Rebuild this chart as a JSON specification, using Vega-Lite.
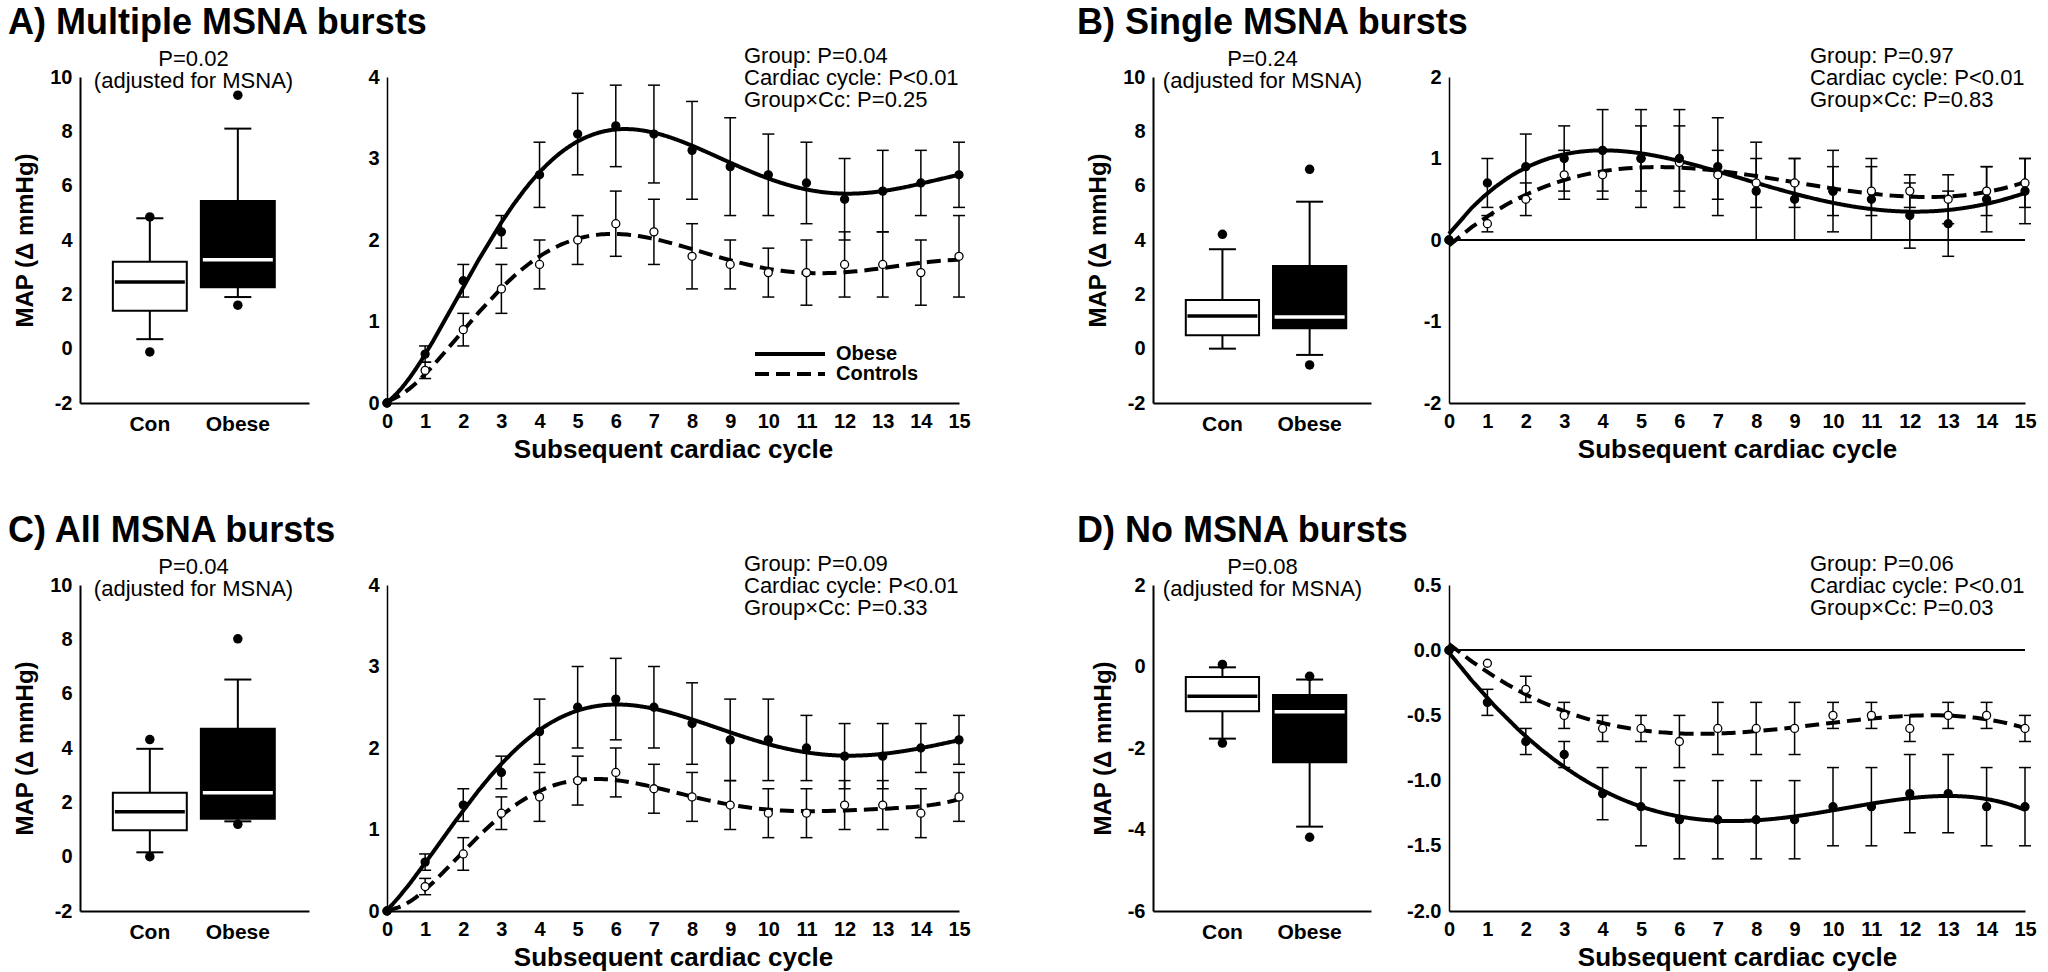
{
"$schema": "https://vega.github.io/schema/vega-lite/v6.json",
"padding": {"left": 8, "top": 5, "right": 4, "bottom": 5},
"background": "white",
"config": {
  "view": {"stroke": null},
  "font": "Liberation Sans",
  "axis": {"domainColor": "black", "domainWidth": 2, "ticks": false, "tickSize": 0, "grid": false, "labelFontWeight": "bold", "labelFontSize": 20, "labelColor": "black", "titleFontWeight": "bold", "titleColor": "black", "labelPadding": 8},
  "title": {"color": "black"},
  "legend": {"labelColor": "black"}
},
"bounds": "flush",
"align": "each",
"columns": 5,
"spacing": {"row": 182, "column": 78},
"resolve": {"scale": {"fill": "independent", "color": "independent", "strokeDash": "independent"}, "legend": {"fill": "independent", "color": "independent", "strokeDash": "independent"}},
"datasets": {
  "boxA": [
    {"group": "Con", "lower": 0.35, "q1": 1.4, "median": 2.45, "q3": 3.2, "upper": 4.8},
    {"group": "Obese", "lower": 1.9, "q1": 2.26, "median": 3.27, "q3": 5.44, "upper": 8.1}],
  "outA": [
    {"group": "Con", "value": 4.85}, {"group": "Con", "value": -0.12},
    {"group": "Obese", "value": 9.33}, {"group": "Obese", "value": 1.6}],
  "boxB": [
    {"group": "Con", "lower": 0.0, "q1": 0.49, "median": 1.2, "q3": 1.79, "upper": 3.66},
    {"group": "Obese", "lower": -0.23, "q1": 0.75, "median": 1.17, "q3": 3.04, "upper": 5.41}],
  "outB": [
    {"group": "Con", "value": 4.21},
    {"group": "Obese", "value": 6.6}, {"group": "Obese", "value": -0.6}],
  "boxC": [
    {"group": "Con", "lower": 0.16, "q1": 0.97, "median": 1.65, "q3": 2.35, "upper": 3.97},
    {"group": "Obese", "lower": 1.3, "q1": 1.4, "median": 2.35, "q3": 4.71, "upper": 6.52}],
  "outC": [
    {"group": "Con", "value": 4.31}, {"group": "Con", "value": 0.0},
    {"group": "Obese", "value": 8.02}, {"group": "Obese", "value": 1.19}],
  "boxD": [
    {"group": "Con", "lower": -1.77, "q1": -1.1, "median": -0.73, "q3": -0.26, "upper": -0.02},
    {"group": "Obese", "lower": -3.93, "q1": -2.35, "median": -1.11, "q3": -0.7, "upper": -0.32}],
  "outD": [
    {"group": "Con", "value": 0.05}, {"group": "Con", "value": -1.88},
    {"group": "Obese", "value": -0.24}, {"group": "Obese", "value": -4.19}],
  "lineA": [
    {"cycle": 0, "group": "Controls", "mean": 0},
    {"cycle": 1, "group": "Controls", "mean": 0.4, "lo": 0.3, "hi": 0.5},
    {"cycle": 2, "group": "Controls", "mean": 0.9, "lo": 0.7, "hi": 1.1},
    {"cycle": 3, "group": "Controls", "mean": 1.4, "lo": 1.1, "hi": 1.7},
    {"cycle": 4, "group": "Controls", "mean": 1.7, "lo": 1.4, "hi": 2.0},
    {"cycle": 5, "group": "Controls", "mean": 2.0, "lo": 1.7, "hi": 2.3},
    {"cycle": 6, "group": "Controls", "mean": 2.2, "lo": 1.8, "hi": 2.6},
    {"cycle": 7, "group": "Controls", "mean": 2.1, "lo": 1.7, "hi": 2.5},
    {"cycle": 8, "group": "Controls", "mean": 1.8, "lo": 1.4, "hi": 2.2},
    {"cycle": 9, "group": "Controls", "mean": 1.7, "lo": 1.4, "hi": 2.0},
    {"cycle": 10, "group": "Controls", "mean": 1.6, "lo": 1.3, "hi": 1.9},
    {"cycle": 11, "group": "Controls", "mean": 1.6, "lo": 1.2, "hi": 2.0},
    {"cycle": 12, "group": "Controls", "mean": 1.7, "lo": 1.3, "hi": 2.1},
    {"cycle": 13, "group": "Controls", "mean": 1.7, "lo": 1.3, "hi": 2.1},
    {"cycle": 14, "group": "Controls", "mean": 1.6, "lo": 1.2, "hi": 2.0},
    {"cycle": 15, "group": "Controls", "mean": 1.8, "lo": 1.3, "hi": 2.3},
    {"cycle": 0, "group": "Obese", "mean": 0},
    {"cycle": 1, "group": "Obese", "mean": 0.6, "lo": 0.5, "hi": 0.7},
    {"cycle": 2, "group": "Obese", "mean": 1.5, "lo": 1.3, "hi": 1.7},
    {"cycle": 3, "group": "Obese", "mean": 2.1, "lo": 1.9, "hi": 2.3},
    {"cycle": 4, "group": "Obese", "mean": 2.8, "lo": 2.4, "hi": 3.2},
    {"cycle": 5, "group": "Obese", "mean": 3.3, "lo": 2.8, "hi": 3.8},
    {"cycle": 6, "group": "Obese", "mean": 3.4, "lo": 2.9, "hi": 3.9},
    {"cycle": 7, "group": "Obese", "mean": 3.3, "lo": 2.7, "hi": 3.9},
    {"cycle": 8, "group": "Obese", "mean": 3.1, "lo": 2.5, "hi": 3.7},
    {"cycle": 9, "group": "Obese", "mean": 2.9, "lo": 2.3, "hi": 3.5},
    {"cycle": 10, "group": "Obese", "mean": 2.8, "lo": 2.3, "hi": 3.3},
    {"cycle": 11, "group": "Obese", "mean": 2.7, "lo": 2.2, "hi": 3.2},
    {"cycle": 12, "group": "Obese", "mean": 2.5, "lo": 2.0, "hi": 3.0},
    {"cycle": 13, "group": "Obese", "mean": 2.6, "lo": 2.1, "hi": 3.1},
    {"cycle": 14, "group": "Obese", "mean": 2.7, "lo": 2.3, "hi": 3.1},
    {"cycle": 15, "group": "Obese", "mean": 2.8, "lo": 2.4, "hi": 3.2}],
  "lineB": [
    {"cycle": 0, "group": "Controls", "mean": 0},
    {"cycle": 1, "group": "Controls", "mean": 0.2, "lo": 0.1, "hi": 0.3},
    {"cycle": 2, "group": "Controls", "mean": 0.5, "lo": 0.3, "hi": 0.7},
    {"cycle": 3, "group": "Controls", "mean": 0.8, "lo": 0.5, "hi": 1.1},
    {"cycle": 4, "group": "Controls", "mean": 0.8, "lo": 0.5, "hi": 1.1},
    {"cycle": 5, "group": "Controls", "mean": 1.0, "lo": 0.6, "hi": 1.4},
    {"cycle": 6, "group": "Controls", "mean": 0.95, "lo": 0.6, "hi": 1.4},
    {"cycle": 7, "group": "Controls", "mean": 0.8, "lo": 0.5, "hi": 1.1},
    {"cycle": 8, "group": "Controls", "mean": 0.7, "lo": 0.4, "hi": 1.0},
    {"cycle": 9, "group": "Controls", "mean": 0.7, "lo": 0.4, "hi": 1.0},
    {"cycle": 10, "group": "Controls", "mean": 0.6, "lo": 0.3, "hi": 0.9},
    {"cycle": 11, "group": "Controls", "mean": 0.6, "lo": 0.3, "hi": 0.9},
    {"cycle": 12, "group": "Controls", "mean": 0.6, "lo": 0.4, "hi": 0.8},
    {"cycle": 13, "group": "Controls", "mean": 0.5, "lo": 0.2, "hi": 0.8},
    {"cycle": 14, "group": "Controls", "mean": 0.6, "lo": 0.3, "hi": 0.9},
    {"cycle": 15, "group": "Controls", "mean": 0.7, "lo": 0.4, "hi": 1.0},
    {"cycle": 0, "group": "Obese", "mean": 0},
    {"cycle": 1, "group": "Obese", "mean": 0.7, "lo": 0.4, "hi": 1.0},
    {"cycle": 2, "group": "Obese", "mean": 0.9, "lo": 0.5, "hi": 1.3},
    {"cycle": 3, "group": "Obese", "mean": 1.0, "lo": 0.6, "hi": 1.4},
    {"cycle": 4, "group": "Obese", "mean": 1.1, "lo": 0.6, "hi": 1.6},
    {"cycle": 5, "group": "Obese", "mean": 1.0, "lo": 0.4, "hi": 1.6},
    {"cycle": 6, "group": "Obese", "mean": 1.0, "lo": 0.4, "hi": 1.6},
    {"cycle": 7, "group": "Obese", "mean": 0.9, "lo": 0.3, "hi": 1.5},
    {"cycle": 8, "group": "Obese", "mean": 0.6, "lo": 0.0, "hi": 1.2},
    {"cycle": 9, "group": "Obese", "mean": 0.5, "lo": 0.0, "hi": 1.0},
    {"cycle": 10, "group": "Obese", "mean": 0.6, "lo": 0.1, "hi": 1.1},
    {"cycle": 11, "group": "Obese", "mean": 0.5, "lo": 0.0, "hi": 1.0},
    {"cycle": 12, "group": "Obese", "mean": 0.3, "lo": -0.1, "hi": 0.7},
    {"cycle": 13, "group": "Obese", "mean": 0.2, "lo": -0.2, "hi": 0.6},
    {"cycle": 14, "group": "Obese", "mean": 0.5, "lo": 0.1, "hi": 0.9},
    {"cycle": 15, "group": "Obese", "mean": 0.6, "lo": 0.2, "hi": 1.0}],
  "lineC": [
    {"cycle": 0, "group": "Controls", "mean": 0},
    {"cycle": 1, "group": "Controls", "mean": 0.3, "lo": 0.2, "hi": 0.4},
    {"cycle": 2, "group": "Controls", "mean": 0.7, "lo": 0.5, "hi": 0.9},
    {"cycle": 3, "group": "Controls", "mean": 1.2, "lo": 1.0, "hi": 1.4},
    {"cycle": 4, "group": "Controls", "mean": 1.4, "lo": 1.1, "hi": 1.7},
    {"cycle": 5, "group": "Controls", "mean": 1.6, "lo": 1.3, "hi": 1.9},
    {"cycle": 6, "group": "Controls", "mean": 1.7, "lo": 1.4, "hi": 2.0},
    {"cycle": 7, "group": "Controls", "mean": 1.5, "lo": 1.2, "hi": 1.8},
    {"cycle": 8, "group": "Controls", "mean": 1.4, "lo": 1.1, "hi": 1.7},
    {"cycle": 9, "group": "Controls", "mean": 1.3, "lo": 1.0, "hi": 1.6},
    {"cycle": 10, "group": "Controls", "mean": 1.2, "lo": 0.9, "hi": 1.5},
    {"cycle": 11, "group": "Controls", "mean": 1.2, "lo": 0.9, "hi": 1.5},
    {"cycle": 12, "group": "Controls", "mean": 1.3, "lo": 1.0, "hi": 1.6},
    {"cycle": 13, "group": "Controls", "mean": 1.3, "lo": 1.0, "hi": 1.6},
    {"cycle": 14, "group": "Controls", "mean": 1.2, "lo": 0.9, "hi": 1.5},
    {"cycle": 15, "group": "Controls", "mean": 1.4, "lo": 1.1, "hi": 1.7},
    {"cycle": 0, "group": "Obese", "mean": 0},
    {"cycle": 1, "group": "Obese", "mean": 0.6, "lo": 0.5, "hi": 0.7},
    {"cycle": 2, "group": "Obese", "mean": 1.3, "lo": 1.1, "hi": 1.5},
    {"cycle": 3, "group": "Obese", "mean": 1.7, "lo": 1.5, "hi": 1.9},
    {"cycle": 4, "group": "Obese", "mean": 2.2, "lo": 1.8, "hi": 2.6},
    {"cycle": 5, "group": "Obese", "mean": 2.5, "lo": 2.0, "hi": 3.0},
    {"cycle": 6, "group": "Obese", "mean": 2.6, "lo": 2.1, "hi": 3.1},
    {"cycle": 7, "group": "Obese", "mean": 2.5, "lo": 2.0, "hi": 3.0},
    {"cycle": 8, "group": "Obese", "mean": 2.3, "lo": 1.8, "hi": 2.8},
    {"cycle": 9, "group": "Obese", "mean": 2.1, "lo": 1.6, "hi": 2.6},
    {"cycle": 10, "group": "Obese", "mean": 2.1, "lo": 1.6, "hi": 2.6},
    {"cycle": 11, "group": "Obese", "mean": 2.0, "lo": 1.6, "hi": 2.4},
    {"cycle": 12, "group": "Obese", "mean": 1.9, "lo": 1.5, "hi": 2.3},
    {"cycle": 13, "group": "Obese", "mean": 1.9, "lo": 1.5, "hi": 2.3},
    {"cycle": 14, "group": "Obese", "mean": 2.0, "lo": 1.7, "hi": 2.3},
    {"cycle": 15, "group": "Obese", "mean": 2.1, "lo": 1.8, "hi": 2.4}],
  "lineD": [
    {"cycle": 0, "group": "Controls", "mean": 0},
    {"cycle": 1, "group": "Controls", "mean": -0.1},
    {"cycle": 2, "group": "Controls", "mean": -0.3, "lo": -0.4, "hi": -0.2},
    {"cycle": 3, "group": "Controls", "mean": -0.5, "lo": -0.6, "hi": -0.4},
    {"cycle": 4, "group": "Controls", "mean": -0.6, "lo": -0.7, "hi": -0.5},
    {"cycle": 5, "group": "Controls", "mean": -0.6, "lo": -0.7, "hi": -0.5},
    {"cycle": 6, "group": "Controls", "mean": -0.7, "lo": -0.9, "hi": -0.5},
    {"cycle": 7, "group": "Controls", "mean": -0.6, "lo": -0.8, "hi": -0.4},
    {"cycle": 8, "group": "Controls", "mean": -0.6, "lo": -0.8, "hi": -0.4},
    {"cycle": 9, "group": "Controls", "mean": -0.6, "lo": -0.8, "hi": -0.4},
    {"cycle": 10, "group": "Controls", "mean": -0.5, "lo": -0.6, "hi": -0.4},
    {"cycle": 11, "group": "Controls", "mean": -0.5, "lo": -0.6, "hi": -0.4},
    {"cycle": 12, "group": "Controls", "mean": -0.6, "lo": -0.7, "hi": -0.5},
    {"cycle": 13, "group": "Controls", "mean": -0.5, "lo": -0.6, "hi": -0.4},
    {"cycle": 14, "group": "Controls", "mean": -0.5, "lo": -0.6, "hi": -0.4},
    {"cycle": 15, "group": "Controls", "mean": -0.6, "lo": -0.7, "hi": -0.5},
    {"cycle": 0, "group": "Obese", "mean": 0},
    {"cycle": 1, "group": "Obese", "mean": -0.4, "lo": -0.5, "hi": -0.3},
    {"cycle": 2, "group": "Obese", "mean": -0.7, "lo": -0.8, "hi": -0.6},
    {"cycle": 3, "group": "Obese", "mean": -0.8, "lo": -0.9, "hi": -0.7},
    {"cycle": 4, "group": "Obese", "mean": -1.1, "lo": -1.3, "hi": -0.9},
    {"cycle": 5, "group": "Obese", "mean": -1.2, "lo": -1.5, "hi": -0.9},
    {"cycle": 6, "group": "Obese", "mean": -1.3, "lo": -1.6, "hi": -1.0},
    {"cycle": 7, "group": "Obese", "mean": -1.3, "lo": -1.6, "hi": -1.0},
    {"cycle": 8, "group": "Obese", "mean": -1.3, "lo": -1.6, "hi": -1.0},
    {"cycle": 9, "group": "Obese", "mean": -1.3, "lo": -1.6, "hi": -1.0},
    {"cycle": 10, "group": "Obese", "mean": -1.2, "lo": -1.5, "hi": -0.9},
    {"cycle": 11, "group": "Obese", "mean": -1.2, "lo": -1.5, "hi": -0.9},
    {"cycle": 12, "group": "Obese", "mean": -1.1, "lo": -1.4, "hi": -0.8},
    {"cycle": 13, "group": "Obese", "mean": -1.1, "lo": -1.4, "hi": -0.8},
    {"cycle": 14, "group": "Obese", "mean": -1.2, "lo": -1.5, "hi": -0.9},
    {"cycle": 15, "group": "Obese", "mean": -1.2, "lo": -1.5, "hi": -0.9}]
},
"concat": [
  {
    "width": 229, "height": 326,
    "title": {"text": "A) Multiple MSNA bursts", "anchor": "start", "frame": "group", "dx": -72, "fontSize": 36, "fontWeight": "bold", "offset": 5},
    "resolve": {"axis": {"x": "independent", "y": "independent"}},
    "layer": [
      {"data": {"name": "boxA"}, "mark": {"type": "rule", "color": "black", "strokeWidth": 2},
       "encoding": {
         "x": {"field": "group", "type": "nominal", "scale": {"type": "band", "domain": ["Con", "Obese"], "paddingInner": 0.16, "paddingOuter": 0.381, "align": 0.49}, "axis": {"orient": "bottom", "title": null, "labelAngle": 0, "labelFontSize": 21, "labelPadding": 10}},
         "y": {"field": "lower", "type": "quantitative", "scale": {"domain": [-2, 10], "nice": false, "zero": false}, "axis": {"values": [-2, 0, 2, 4, 6, 8, 10], "title": "MAP (Δ mmHg)", "titleFontSize": 24, "titlePadding": 12, "labelExpr": "replace(datum.label, '\u2212', '-')"}},
         "y2": {"field": "upper"}}},
      {"data": {"name": "boxA"}, "mark": {"type": "bar", "stroke": "black", "strokeWidth": 2},
       "encoding": {"x": {"field": "group", "type": "nominal", "axis": null}, "y": {"field": "q1", "type": "quantitative", "axis": null}, "y2": {"field": "q3"},
         "fill": {"field": "group", "type": "nominal", "scale": {"domain": ["Con", "Obese"], "range": ["white", "black"]}, "legend": null}}},
      {"data": {"name": "boxA"}, "mark": {"type": "tick", "orient": "horizontal", "size": 70, "thickness": 3.5, "opacity": 1},
       "encoding": {"x": {"field": "group", "type": "nominal", "axis": null}, "y": {"field": "median", "type": "quantitative", "axis": null},
         "color": {"field": "group", "type": "nominal", "scale": {"domain": ["Con", "Obese"], "range": ["black", "white"]}, "legend": null}}},
      {"data": {"name": "boxA"}, "mark": {"type": "tick", "orient": "horizontal", "size": 27, "thickness": 2, "color": "black", "opacity": 1},
       "encoding": {"x": {"field": "group", "type": "nominal", "axis": null}, "y": {"field": "lower", "type": "quantitative", "axis": null}}},
      {"data": {"name": "boxA"}, "mark": {"type": "tick", "orient": "horizontal", "size": 27, "thickness": 2, "color": "black", "opacity": 1},
       "encoding": {"x": {"field": "group", "type": "nominal", "axis": null}, "y": {"field": "upper", "type": "quantitative", "axis": null}}},
      {"data": {"name": "outA"}, "mark": {"type": "point", "shape": "circle", "filled": true, "color": "black", "size": 90, "opacity": 1},
       "encoding": {"x": {"field": "group", "type": "nominal", "axis": {"orient": "top", "domain": false, "labels": false, "ticks": false, "title": ["P=0.02", "(adjusted for MSNA)"], "titleFontSize": 22, "titleFontWeight": "normal", "titleBaseline": "alphabetic", "titleX": 113, "titleY": -12, "titleLineHeight": 22}},
         "y": {"field": "value", "type": "quantitative", "axis": null}}}
    ]
  },
  {
    "width": 572, "height": 326,
    "data": {"name": "lineA"},
    "title": {"text": ["Group: P=0.04", "Cardiac cycle: P<0.01", "Group×Cc: P=0.25"], "anchor": "start", "frame": "group", "dx": 357, "offset": -45, "fontSize": 22, "fontWeight": "normal", "lineHeight": 22, "align": "left"},
    "resolve": {"axis": {"x": "independent", "y": "independent"}},
    "layer": [
      {"transform": [{"regression": "mean", "on": "cycle", "groupby": ["group"], "method": "poly", "order": 6, "extent": [0, 15]}],
       "mark": {"type": "line", "color": "black", "strokeWidth": 4},
       "encoding": {
         "x": {"field": "cycle", "type": "quantitative", "scale": {"domain": [0, 15], "nice": false, "zero": false}, "axis": {"values": [0,1,2,3,4,5,6,7,8,9,10,11,12,13,14,15], "title": "Subsequent cardiac cycle", "titleFontSize": 26, "titlePadding": 5, "labelFlush": false, "labelOverlap": false}},
         "y": {"field": "mean", "type": "quantitative", "scale": {"domain": [0, 4], "nice": false, "zero": false}, "axis": {"values": [0, 1, 2, 3, 4], "title": null, "domainWidth": 1.5}},
         "strokeDash": {"field": "group", "type": "nominal", "scale": {"domain": ["Obese", "Controls"], "range": [[1, 0], [14, 7]]},
           "legend": {"orient": "none", "legendX": 366, "legendY": 267, "title": null, "symbolType": "stroke", "symbolSize": 4900, "symbolStrokeWidth": 4, "symbolStrokeColor": "black", "labelFontSize": 20, "labelFontWeight": "bold", "labelColor": "black", "clipHeight": 20, "rowPadding": 0, "padding": 0, "labelOffset": 9}}}},
      {"transform": [{"filter": "isValid(datum.lo)"}], "mark": {"type": "rule", "color": "black", "strokeWidth": 1.5},
       "encoding": {"x": {"field": "cycle", "type": "quantitative", "axis": null}, "y": {"field": "lo", "type": "quantitative", "axis": null}, "y2": {"field": "hi"}}},
      {"transform": [{"filter": "isValid(datum.lo)"}], "mark": {"type": "tick", "orient": "horizontal", "size": 12, "thickness": 1.5, "color": "black", "opacity": 1},
       "encoding": {"x": {"field": "cycle", "type": "quantitative", "axis": null}, "y": {"field": "lo", "type": "quantitative", "axis": null}}},
      {"transform": [{"filter": "isValid(datum.hi)"}], "mark": {"type": "tick", "orient": "horizontal", "size": 12, "thickness": 1.5, "color": "black", "opacity": 1},
       "encoding": {"x": {"field": "cycle", "type": "quantitative", "axis": null}, "y": {"field": "hi", "type": "quantitative", "axis": null}}},
      {"mark": {"type": "point", "shape": "circle", "filled": true, "size": 64, "stroke": "black", "strokeWidth": 1.3, "opacity": 1},
       "encoding": {"x": {"field": "cycle", "type": "quantitative", "axis": null}, "y": {"field": "mean", "type": "quantitative", "axis": null},
         "fill": {"field": "group", "type": "nominal", "scale": {"domain": ["Obese", "Controls"], "range": ["black", "white"]}, "legend": null}}}
    ]
  },
  {"width": 38, "height": 326, "data": {"values": [{"a": 1}]}, "mark": {"type": "point", "opacity": 0}, "encoding": {}},
  {
    "width": 218, "height": 326,
    "title": {"text": "B) Single MSNA bursts", "anchor": "start", "frame": "group", "dx": -76, "fontSize": 36, "fontWeight": "bold", "offset": 5},
    "resolve": {"axis": {"x": "independent", "y": "independent"}},
    "layer": [
      {"data": {"name": "boxB"}, "mark": {"type": "rule", "color": "black", "strokeWidth": 2},
       "encoding": {
         "x": {"field": "group", "type": "nominal", "scale": {"type": "band", "domain": ["Con", "Obese"], "paddingInner": 0.16, "paddingOuter": 0.33, "align": 0.57}, "axis": {"orient": "bottom", "title": null, "labelAngle": 0, "labelFontSize": 21, "labelPadding": 10}},
         "y": {"field": "lower", "type": "quantitative", "scale": {"domain": [-2, 10], "nice": false, "zero": false}, "axis": {"values": [-2, 0, 2, 4, 6, 8, 10], "title": "MAP (Δ mmHg)", "titleFontSize": 24, "titlePadding": 12, "labelExpr": "replace(datum.label, '\u2212', '-')"}},
         "y2": {"field": "upper"}}},
      {"data": {"name": "boxB"}, "mark": {"type": "bar", "stroke": "black", "strokeWidth": 2},
       "encoding": {"x": {"field": "group", "type": "nominal", "axis": null}, "y": {"field": "q1", "type": "quantitative", "axis": null}, "y2": {"field": "q3"},
         "fill": {"field": "group", "type": "nominal", "scale": {"domain": ["Con", "Obese"], "range": ["white", "black"]}, "legend": null}}},
      {"data": {"name": "boxB"}, "mark": {"type": "tick", "orient": "horizontal", "size": 70, "thickness": 3.5, "opacity": 1},
       "encoding": {"x": {"field": "group", "type": "nominal", "axis": null}, "y": {"field": "median", "type": "quantitative", "axis": null},
         "color": {"field": "group", "type": "nominal", "scale": {"domain": ["Con", "Obese"], "range": ["black", "white"]}, "legend": null}}},
      {"data": {"name": "boxB"}, "mark": {"type": "tick", "orient": "horizontal", "size": 27, "thickness": 2, "color": "black", "opacity": 1},
       "encoding": {"x": {"field": "group", "type": "nominal", "axis": null}, "y": {"field": "lower", "type": "quantitative", "axis": null}}},
      {"data": {"name": "boxB"}, "mark": {"type": "tick", "orient": "horizontal", "size": 27, "thickness": 2, "color": "black", "opacity": 1},
       "encoding": {"x": {"field": "group", "type": "nominal", "axis": null}, "y": {"field": "upper", "type": "quantitative", "axis": null}}},
      {"data": {"name": "outB"}, "mark": {"type": "point", "shape": "circle", "filled": true, "color": "black", "size": 90, "opacity": 1},
       "encoding": {"x": {"field": "group", "type": "nominal", "axis": {"orient": "top", "domain": false, "labels": false, "ticks": false, "title": ["P=0.24", "(adjusted for MSNA)"], "titleFontSize": 22, "titleFontWeight": "normal", "titleBaseline": "alphabetic", "titleY": -12, "titleLineHeight": 22}},
         "y": {"field": "value", "type": "quantitative", "axis": null}}}
    ]
  },
  {
    "width": 576, "height": 326,
    "data": {"name": "lineB"},
    "title": {"text": ["Group: P=0.97", "Cardiac cycle: P<0.01", "Group×Cc: P=0.83"], "anchor": "start", "frame": "group", "dx": 361, "offset": -45, "fontSize": 22, "fontWeight": "normal", "lineHeight": 22, "align": "left"},
    "resolve": {"axis": {"x": "independent", "y": "independent"}},
    "layer": [
      {"mark": {"type": "rule", "color": "black", "strokeWidth": 1.5},
       "encoding": {"x": {"datum": 0, "type": "quantitative", "scale": {"domain": [0, 15], "nice": false, "zero": false}, "axis": {"values": [0,1,2,3,4,5,6,7,8,9,10,11,12,13,14,15], "title": "Subsequent cardiac cycle", "titleFontSize": 26, "titlePadding": 5, "labelFlush": false, "labelOverlap": false}}, "x2": {"datum": 15},
         "y": {"datum": 0, "type": "quantitative", "scale": {"domain": [-2, 2], "nice": false, "zero": false}, "axis": {"values": [-2, -1, 0, 1, 2], "title": null, "domainWidth": 1.5, "labelExpr": "replace(datum.label, '\u2212', '-')"}}}},
      {"transform": [{"regression": "mean", "on": "cycle", "groupby": ["group"], "method": "poly", "order": 4, "extent": [0, 15]}],
       "mark": {"type": "line", "color": "black", "strokeWidth": 4},
       "encoding": {
         "x": {"field": "cycle", "type": "quantitative", "axis": null},
         "y": {"field": "mean", "type": "quantitative", "axis": null},
         "strokeDash": {"field": "group", "type": "nominal", "scale": {"domain": ["Obese", "Controls"], "range": [[1, 0], [14, 7]]}, "legend": null}}},
      {"transform": [{"filter": "isValid(datum.lo)"}], "mark": {"type": "rule", "color": "black", "strokeWidth": 1.5},
       "encoding": {"x": {"field": "cycle", "type": "quantitative", "axis": null}, "y": {"field": "lo", "type": "quantitative", "axis": null}, "y2": {"field": "hi"}}},
      {"transform": [{"filter": "isValid(datum.lo)"}], "mark": {"type": "tick", "orient": "horizontal", "size": 12, "thickness": 1.5, "color": "black", "opacity": 1},
       "encoding": {"x": {"field": "cycle", "type": "quantitative", "axis": null}, "y": {"field": "lo", "type": "quantitative", "axis": null}}},
      {"transform": [{"filter": "isValid(datum.hi)"}], "mark": {"type": "tick", "orient": "horizontal", "size": 12, "thickness": 1.5, "color": "black", "opacity": 1},
       "encoding": {"x": {"field": "cycle", "type": "quantitative", "axis": null}, "y": {"field": "hi", "type": "quantitative", "axis": null}}},
      {"mark": {"type": "point", "shape": "circle", "filled": true, "size": 64, "stroke": "black", "strokeWidth": 1.3, "opacity": 1},
       "encoding": {"x": {"field": "cycle", "type": "quantitative", "axis": null}, "y": {"field": "mean", "type": "quantitative", "axis": null},
         "fill": {"field": "group", "type": "nominal", "scale": {"domain": ["Obese", "Controls"], "range": ["black", "white"]}, "legend": null}}}
    ]
  },
  {
    "width": 229, "height": 326,
    "title": {"text": "C) All MSNA bursts", "anchor": "start", "frame": "group", "dx": -72, "fontSize": 36, "fontWeight": "bold", "offset": 5},
    "resolve": {"axis": {"x": "independent", "y": "independent"}},
    "layer": [
      {"data": {"name": "boxC"}, "mark": {"type": "rule", "color": "black", "strokeWidth": 2},
       "encoding": {
         "x": {"field": "group", "type": "nominal", "scale": {"type": "band", "domain": ["Con", "Obese"], "paddingInner": 0.16, "paddingOuter": 0.381, "align": 0.49}, "axis": {"orient": "bottom", "title": null, "labelAngle": 0, "labelFontSize": 21, "labelPadding": 10}},
         "y": {"field": "lower", "type": "quantitative", "scale": {"domain": [-2, 10], "nice": false, "zero": false}, "axis": {"values": [-2, 0, 2, 4, 6, 8, 10], "title": "MAP (Δ mmHg)", "titleFontSize": 24, "titlePadding": 12, "labelExpr": "replace(datum.label, '\u2212', '-')"}},
         "y2": {"field": "upper"}}},
      {"data": {"name": "boxC"}, "mark": {"type": "bar", "stroke": "black", "strokeWidth": 2},
       "encoding": {"x": {"field": "group", "type": "nominal", "axis": null}, "y": {"field": "q1", "type": "quantitative", "axis": null}, "y2": {"field": "q3"},
         "fill": {"field": "group", "type": "nominal", "scale": {"domain": ["Con", "Obese"], "range": ["white", "black"]}, "legend": null}}},
      {"data": {"name": "boxC"}, "mark": {"type": "tick", "orient": "horizontal", "size": 70, "thickness": 3.5, "opacity": 1},
       "encoding": {"x": {"field": "group", "type": "nominal", "axis": null}, "y": {"field": "median", "type": "quantitative", "axis": null},
         "color": {"field": "group", "type": "nominal", "scale": {"domain": ["Con", "Obese"], "range": ["black", "white"]}, "legend": null}}},
      {"data": {"name": "boxC"}, "mark": {"type": "tick", "orient": "horizontal", "size": 27, "thickness": 2, "color": "black", "opacity": 1},
       "encoding": {"x": {"field": "group", "type": "nominal", "axis": null}, "y": {"field": "lower", "type": "quantitative", "axis": null}}},
      {"data": {"name": "boxC"}, "mark": {"type": "tick", "orient": "horizontal", "size": 27, "thickness": 2, "color": "black", "opacity": 1},
       "encoding": {"x": {"field": "group", "type": "nominal", "axis": null}, "y": {"field": "upper", "type": "quantitative", "axis": null}}},
      {"data": {"name": "outC"}, "mark": {"type": "point", "shape": "circle", "filled": true, "color": "black", "size": 90, "opacity": 1},
       "encoding": {"x": {"field": "group", "type": "nominal", "axis": {"orient": "top", "domain": false, "labels": false, "ticks": false, "title": ["P=0.04", "(adjusted for MSNA)"], "titleFontSize": 22, "titleFontWeight": "normal", "titleBaseline": "alphabetic", "titleX": 113, "titleY": -12, "titleLineHeight": 22}},
         "y": {"field": "value", "type": "quantitative", "axis": null}}}
    ]
  },
  {
    "width": 572, "height": 326,
    "data": {"name": "lineC"},
    "title": {"text": ["Group: P=0.09", "Cardiac cycle: P<0.01", "Group×Cc: P=0.33"], "anchor": "start", "frame": "group", "dx": 357, "offset": -45, "fontSize": 22, "fontWeight": "normal", "lineHeight": 22, "align": "left"},
    "resolve": {"axis": {"x": "independent", "y": "independent"}},
    "layer": [
      {"transform": [{"regression": "mean", "on": "cycle", "groupby": ["group"], "method": "poly", "order": 6, "extent": [0, 15]}],
       "mark": {"type": "line", "color": "black", "strokeWidth": 4},
       "encoding": {
         "x": {"field": "cycle", "type": "quantitative", "scale": {"domain": [0, 15], "nice": false, "zero": false}, "axis": {"values": [0,1,2,3,4,5,6,7,8,9,10,11,12,13,14,15], "title": "Subsequent cardiac cycle", "titleFontSize": 26, "titlePadding": 5, "labelFlush": false, "labelOverlap": false}},
         "y": {"field": "mean", "type": "quantitative", "scale": {"domain": [0, 4], "nice": false, "zero": false}, "axis": {"values": [0, 1, 2, 3, 4], "title": null, "domainWidth": 1.5}},
         "strokeDash": {"field": "group", "type": "nominal", "scale": {"domain": ["Obese", "Controls"], "range": [[1, 0], [14, 7]]}, "legend": null}}},
      {"transform": [{"filter": "isValid(datum.lo)"}], "mark": {"type": "rule", "color": "black", "strokeWidth": 1.5},
       "encoding": {"x": {"field": "cycle", "type": "quantitative", "axis": null}, "y": {"field": "lo", "type": "quantitative", "axis": null}, "y2": {"field": "hi"}}},
      {"transform": [{"filter": "isValid(datum.lo)"}], "mark": {"type": "tick", "orient": "horizontal", "size": 12, "thickness": 1.5, "color": "black", "opacity": 1},
       "encoding": {"x": {"field": "cycle", "type": "quantitative", "axis": null}, "y": {"field": "lo", "type": "quantitative", "axis": null}}},
      {"transform": [{"filter": "isValid(datum.hi)"}], "mark": {"type": "tick", "orient": "horizontal", "size": 12, "thickness": 1.5, "color": "black", "opacity": 1},
       "encoding": {"x": {"field": "cycle", "type": "quantitative", "axis": null}, "y": {"field": "hi", "type": "quantitative", "axis": null}}},
      {"mark": {"type": "point", "shape": "circle", "filled": true, "size": 64, "stroke": "black", "strokeWidth": 1.3, "opacity": 1},
       "encoding": {"x": {"field": "cycle", "type": "quantitative", "axis": null}, "y": {"field": "mean", "type": "quantitative", "axis": null},
         "fill": {"field": "group", "type": "nominal", "scale": {"domain": ["Obese", "Controls"], "range": ["black", "white"]}, "legend": null}}}
    ]
  },
  {"width": 38, "height": 326, "data": {"values": [{"a": 1}]}, "mark": {"type": "point", "opacity": 0}, "encoding": {}},
  {
    "width": 218, "height": 326,
    "title": {"text": "D) No MSNA bursts", "anchor": "start", "frame": "group", "dx": -76, "fontSize": 36, "fontWeight": "bold", "offset": 5},
    "resolve": {"axis": {"x": "independent", "y": "independent"}},
    "layer": [
      {"data": {"name": "boxD"}, "mark": {"type": "rule", "color": "black", "strokeWidth": 2},
       "encoding": {
         "x": {"field": "group", "type": "nominal", "scale": {"type": "band", "domain": ["Con", "Obese"], "paddingInner": 0.16, "paddingOuter": 0.33, "align": 0.57}, "axis": {"orient": "bottom", "title": null, "labelAngle": 0, "labelFontSize": 21, "labelPadding": 10}},
         "y": {"field": "lower", "type": "quantitative", "scale": {"domain": [-6, 2], "nice": false, "zero": false}, "axis": {"values": [-6, -4, -2, 0, 2], "title": "MAP (Δ mmHg)", "titleFontSize": 24, "titlePadding": 12, "labelExpr": "replace(datum.label, '\u2212', '-')"}},
         "y2": {"field": "upper"}}},
      {"data": {"name": "boxD"}, "mark": {"type": "bar", "stroke": "black", "strokeWidth": 2},
       "encoding": {"x": {"field": "group", "type": "nominal", "axis": null}, "y": {"field": "q1", "type": "quantitative", "axis": null}, "y2": {"field": "q3"},
         "fill": {"field": "group", "type": "nominal", "scale": {"domain": ["Con", "Obese"], "range": ["white", "black"]}, "legend": null}}},
      {"data": {"name": "boxD"}, "mark": {"type": "tick", "orient": "horizontal", "size": 70, "thickness": 3.5, "opacity": 1},
       "encoding": {"x": {"field": "group", "type": "nominal", "axis": null}, "y": {"field": "median", "type": "quantitative", "axis": null},
         "color": {"field": "group", "type": "nominal", "scale": {"domain": ["Con", "Obese"], "range": ["black", "white"]}, "legend": null}}},
      {"data": {"name": "boxD"}, "mark": {"type": "tick", "orient": "horizontal", "size": 27, "thickness": 2, "color": "black", "opacity": 1},
       "encoding": {"x": {"field": "group", "type": "nominal", "axis": null}, "y": {"field": "lower", "type": "quantitative", "axis": null}}},
      {"data": {"name": "boxD"}, "mark": {"type": "tick", "orient": "horizontal", "size": 27, "thickness": 2, "color": "black", "opacity": 1},
       "encoding": {"x": {"field": "group", "type": "nominal", "axis": null}, "y": {"field": "upper", "type": "quantitative", "axis": null}}},
      {"data": {"name": "outD"}, "mark": {"type": "point", "shape": "circle", "filled": true, "color": "black", "size": 90, "opacity": 1},
       "encoding": {"x": {"field": "group", "type": "nominal", "axis": {"orient": "top", "domain": false, "labels": false, "ticks": false, "title": ["P=0.08", "(adjusted for MSNA)"], "titleFontSize": 22, "titleFontWeight": "normal", "titleBaseline": "alphabetic", "titleY": -12, "titleLineHeight": 22}},
         "y": {"field": "value", "type": "quantitative", "axis": null}}}
    ]
  },
  {
    "width": 576, "height": 326,
    "data": {"name": "lineD"},
    "title": {"text": ["Group: P=0.06", "Cardiac cycle: P<0.01", "Group×Cc: P=0.03"], "anchor": "start", "frame": "group", "dx": 361, "offset": -45, "fontSize": 22, "fontWeight": "normal", "lineHeight": 22, "align": "left"},
    "resolve": {"axis": {"x": "independent", "y": "independent"}},
    "layer": [
      {"mark": {"type": "rule", "color": "black", "strokeWidth": 1.5},
       "encoding": {"x": {"datum": 0, "type": "quantitative", "scale": {"domain": [0, 15], "nice": false, "zero": false}, "axis": {"values": [0,1,2,3,4,5,6,7,8,9,10,11,12,13,14,15], "title": "Subsequent cardiac cycle", "titleFontSize": 26, "titlePadding": 5, "labelFlush": false, "labelOverlap": false}}, "x2": {"datum": 15},
         "y": {"datum": 0, "type": "quantitative", "scale": {"domain": [-2, 0.5], "nice": false, "zero": false}, "axis": {"values": [-2, -1.5, -1, -0.5, 0, 0.5], "title": null, "domainWidth": 1.5, "labelExpr": "replace(format(datum.value, '.1f'), '\u2212', '-')"}}}},
      {"transform": [{"regression": "mean", "on": "cycle", "groupby": ["group"], "method": "poly", "order": 4, "extent": [0, 15]}],
       "mark": {"type": "line", "color": "black", "strokeWidth": 4},
       "encoding": {
         "x": {"field": "cycle", "type": "quantitative", "axis": null},
         "y": {"field": "mean", "type": "quantitative", "axis": null},
         "strokeDash": {"field": "group", "type": "nominal", "scale": {"domain": ["Obese", "Controls"], "range": [[1, 0], [14, 7]]}, "legend": null}}},
      {"transform": [{"filter": "isValid(datum.lo)"}], "mark": {"type": "rule", "color": "black", "strokeWidth": 1.5},
       "encoding": {"x": {"field": "cycle", "type": "quantitative", "axis": null}, "y": {"field": "lo", "type": "quantitative", "axis": null}, "y2": {"field": "hi"}}},
      {"transform": [{"filter": "isValid(datum.lo)"}], "mark": {"type": "tick", "orient": "horizontal", "size": 12, "thickness": 1.5, "color": "black", "opacity": 1},
       "encoding": {"x": {"field": "cycle", "type": "quantitative", "axis": null}, "y": {"field": "lo", "type": "quantitative", "axis": null}}},
      {"transform": [{"filter": "isValid(datum.hi)"}], "mark": {"type": "tick", "orient": "horizontal", "size": 12, "thickness": 1.5, "color": "black", "opacity": 1},
       "encoding": {"x": {"field": "cycle", "type": "quantitative", "axis": null}, "y": {"field": "hi", "type": "quantitative", "axis": null}}},
      {"mark": {"type": "point", "shape": "circle", "filled": true, "size": 64, "stroke": "black", "strokeWidth": 1.3, "opacity": 1},
       "encoding": {"x": {"field": "cycle", "type": "quantitative", "axis": null}, "y": {"field": "mean", "type": "quantitative", "axis": null},
         "fill": {"field": "group", "type": "nominal", "scale": {"domain": ["Obese", "Controls"], "range": ["black", "white"]}, "legend": null}}}
    ]
  }
]
}
